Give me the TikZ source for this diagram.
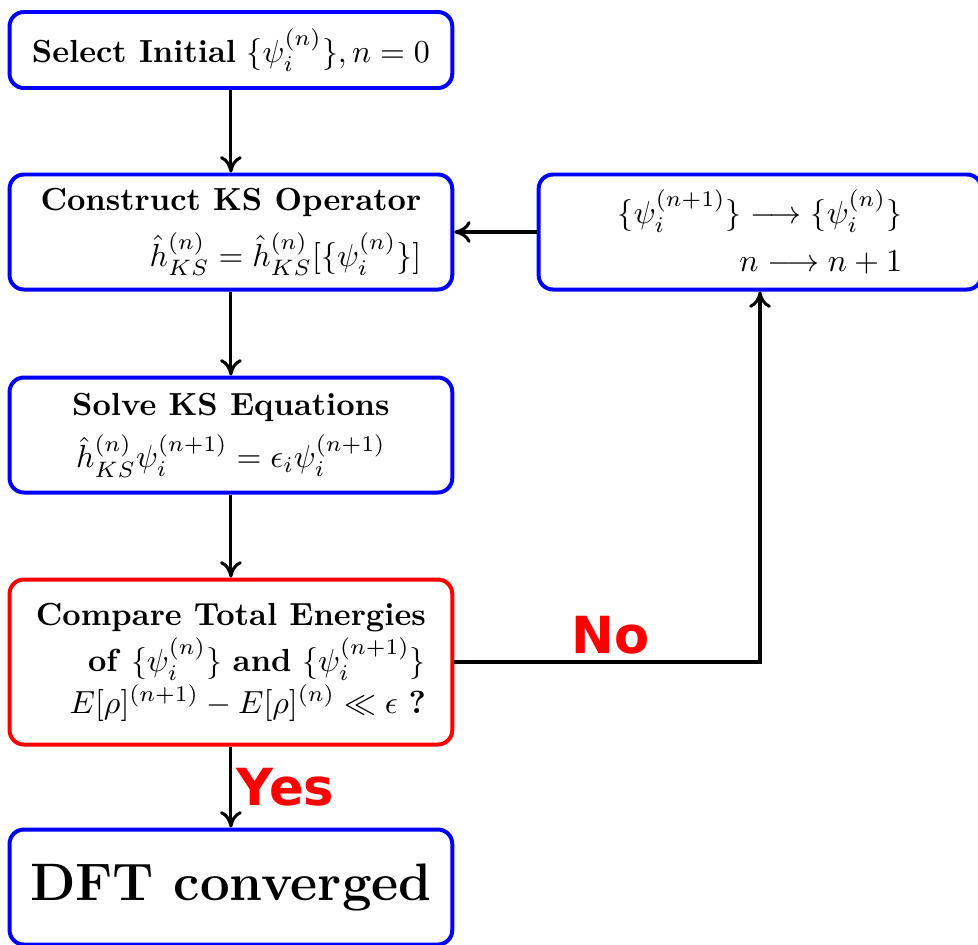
\documentclass[tikz,border=0pt]{standalone}
\usepackage{fontspec}
\newfontfamily\answerfont{DejaVu Sans}
\usetikzlibrary{arrows.meta,positioning,calc}

\begin{document}
\begin{tikzpicture}[
  stepbox/.style={
    draw=blue,
    rounded corners=4.5pt,
    line width=1.25pt,
    minimum width=4.87cm,
    minimum height=1.265cm,
    align=center,
    inner sep=2pt,
    fill=white
  },
  testbox/.style={stepbox, draw=red, minimum height=1.815cm, align=right},
  flow/.style={
    line width=0.95pt,
    -{To[length=1.8mm,width=2.4mm]}
  },
  answer/.style={
    font=\answerfont\bfseries\fontsize{16}{19}\selectfont,
    text=red,
    inner sep=1pt
  }
]
\useasboundingbox (0,0) rectangle (10.758,-10.384);

\node[stepbox, minimum height=0.836cm] (init) at (2.54,-0.55)
  {\textbf{Select Initial} $\{\psi_i^{(n)}\}, n=0$};

\node[stepbox, align=right] (ksop) at (2.54,-2.552)
  {\textbf{Construct KS Operator}\\[4pt]
   $\hat{h}^{(n)}_{KS}=\hat{h}^{(n)}_{KS}[\{\psi_i^{(n)}\}]$};

\node[stepbox] (solve) at (2.54,-4.785)
  {\textbf{Solve KS Equations}\\[3pt]
   $\hat{h}^{(n)}_{KS}\psi_i^{(n+1)}=\epsilon_i\psi_i^{(n+1)}$};

\node[testbox] (compare) at (2.54,-7.282)
  {\textbf{Compare Total Energies}\\[1pt]
   \textbf{of} $\{\psi_i^{(n)}\}$ \textbf{and} $\{\psi_i^{(n+1)}\}$\\[1pt]
   $E[\rho]^{(n+1)}-E[\rho]^{(n)}\ll\epsilon$ \textbf{?}};

\node[stepbox] (done) at (2.54,-9.757)
  {\fontsize{16.5}{20}\selectfont\textbf{DFT converged}};

\node[stepbox, align=right] (update) at (8.36,-2.552)
  {$\{\psi_i^{(n+1)}\}\longrightarrow\{\psi_i^{(n)}\}$\\[3pt]
   $n\longrightarrow n+1$};

\draw[flow] (init) -- (ksop);
\draw[flow] (ksop) -- (solve);
\draw[flow] (solve) -- (compare);
\draw[flow] (compare) -- (done);
\draw[flow] (compare.east) -| (update.south);
\draw[flow] (update) -- (ksop);

\node[answer] (no) at (6.72,-6.985) {No};
\node[answer] (yes) at (3.14,-8.66) {Yes};

\end{tikzpicture}
\end{document}
